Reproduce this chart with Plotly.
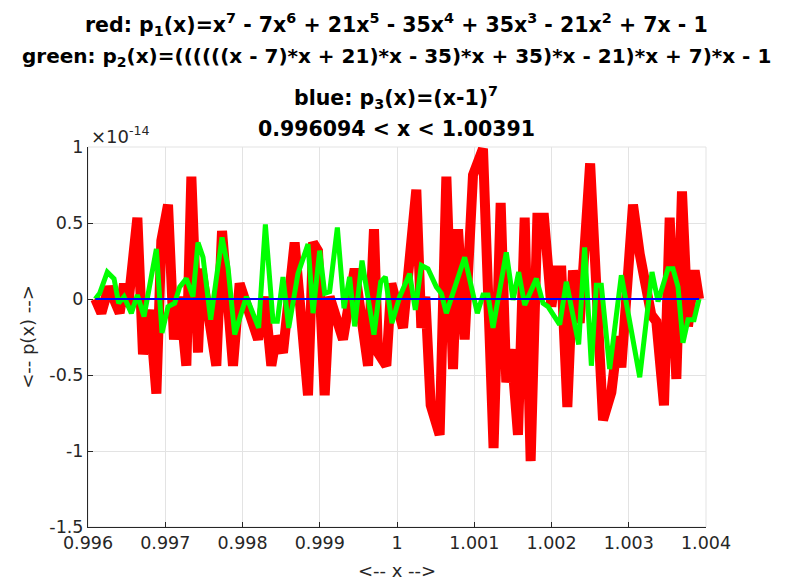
import plotly.graph_objects as go

# values in units of 1e-14 (axis shows x10^-14 exponent)
red_x = [0.996094, 0.996173, 0.996268, 0.996410, 0.996466, 0.996518, 0.996639, 0.996712,
         0.996798, 0.996885, 0.996949, 0.997036, 0.997113, 0.997187, 0.997273, 0.997338,
         0.997424, 0.997467, 0.997661, 0.997735, 0.997877, 0.997963, 0.998201, 0.998287,
         0.998373, 0.998438, 0.998524, 0.998675, 0.998848, 0.998913, 0.998977, 0.999064,
         0.999128, 0.999301, 0.999452, 0.999625, 0.999702, 0.999754, 0.999862, 0.999927,
         1.000078, 1.000151, 1.000250, 1.000315, 1.000367, 1.000436, 1.000552, 1.000639,
         1.000725, 1.000790, 1.000876, 1.000984, 1.001113, 1.001250, 1.001342, 1.001415,
         1.001480, 1.001566, 1.001653, 1.001730, 1.001817, 1.001903, 1.001998, 1.002063,
         1.002127, 1.002205, 1.002278, 1.002365, 1.002500, 1.002667, 1.002775, 1.002861,
         1.002904, 1.003055, 1.003142, 1.003292, 1.003357, 1.003456, 1.003530, 1.003616,
         1.003689, 1.003767, 1.003853, 1.003910]
red_y = [0.0, -0.093, 0.08, -0.093, 0.10, -0.05, 0.535, -0.364,
         -0.071, -0.623, 0.383, 0.621, -0.266, 0.015, -0.439, 0.805,
         -0.353, 0.199, -0.439, 0.448, -0.439, 0.102, -0.266, 0.015,
         -0.439, -0.245, -0.353, 0.372, -0.634, 0.372, 0.318, -0.634,
         0.015, -0.266, 0.199, -0.439, 0.459, -0.353, -0.439, 0.102,
         -0.190, 0.188, 0.719, -0.190, 0.015, -0.699, -0.894, 0.805,
         -0.461, 0.459, -0.266, 0.816, 0.989, -0.981, 0.632, -0.548,
         -0.331, -0.894, 0.535, -1.067, 0.535, 0.535, -0.05, 0.188,
         0.188, -0.710, 0.188, -0.158, 0.892, -0.797, -0.613, -0.245,
         -0.450, 0.621, 0.297, -0.104, -0.147, -0.699, 0.535, -0.526,
         0.708, -0.180, 0.188, 0.0]

green_x = [0.996094, 0.996151, 0.996250, 0.996337, 0.996397, 0.996466, 0.996561, 0.996639,
           0.996725, 0.996885, 0.996958, 0.997036, 0.997122, 0.997187, 0.997273, 0.997359,
           0.997424, 0.997489, 0.997588, 0.997735, 0.997812, 0.997899, 0.998050, 0.998209,
           0.998296, 0.998395, 0.998451, 0.998524, 0.998598, 0.998718, 0.998848, 0.998913,
           0.998999, 0.999064, 0.999128, 0.999228, 0.999314, 0.999387, 0.999452, 0.999547,
           0.999702, 0.999789, 0.999849, 0.999935, 1.000035, 1.000164, 1.000237, 1.000315,
           1.000401, 1.000509, 1.000574, 1.000639, 1.000876, 1.001040, 1.001113, 1.001178,
           1.001243, 1.001415, 1.001502, 1.001575, 1.001653, 1.001804, 1.001890, 1.001955,
           1.002106, 1.002192, 1.002352, 1.002429, 1.002516, 1.002580, 1.002645, 1.002753,
           1.002904, 1.003142, 1.003301, 1.003379, 1.003508, 1.003573, 1.003638, 1.003702,
           1.003767, 1.003845, 1.003910]
green_y = [0.0, 0.037, 0.177, 0.134, -0.028, 0.015, -0.093, 0.026,
           -0.115, 0.329, -0.223, -0.05, -0.028, 0.08, 0.134, 0.015,
           0.372, 0.275, -0.136, 0.405, 0.21, -0.234, 0.015, -0.190,
           0.491, -0.147, -0.147, 0.145, -0.190, 0.167, 0.361, -0.093,
           0.318, 0.037, 0.048, 0.47, -0.061, 0.145, -0.180, 0.253,
           -0.234, 0.113, 0.145, -0.158, 0.015, 0.167, -0.071, 0.221,
           0.199, 0.08, 0.037, -0.093, 0.275, -0.093, 0.026, 0.026,
           -0.190, 0.307, -0.006, 0.177, -0.039, 0.134, -0.028, -0.05,
           -0.169, 0.113, -0.299, 0.340, -0.439, 0.091, 0.091, -0.461,
           0.156, -0.515, 0.177, -0.017, 0.199, 0.199, 0.08, -0.288,
           -0.136, -0.136, 0.0]

blue_x = [0.996094, 1.003910]
blue_y = [0.0, 0.0]

x_ticks = [0.996, 0.997, 0.998, 0.999, 1.0, 1.001, 1.002, 1.003, 1.004]
x_tick_labels = ["0.996", "0.997", "0.998", "0.999", "1", "1.001", "1.002", "1.003", "1.004"]
y_ticks = [-1.5, -1, -0.5, 0, 0.5, 1]
y_tick_labels = ["-1.5", "-1", "-0.5", "0", "0.5", "1"]

title_lines = [
    "red: p<sub>1</sub>(x)=x<sup>7</sup> - 7x<sup>6</sup> + 21x<sup>5</sup> - 35x<sup>4</sup> + 35x<sup>3</sup> - 21x<sup>2</sup> + 7x - 1",
    "green: p<sub>2</sub>(x)=((((((x - 7)*x + 21)*x - 35)*x + 35)*x - 21)*x + 7)*x - 1",
    "blue: p<sub>3</sub>(x)=(x-1)<sup>7</sup>",
    "0.996094 < x < 1.00391",
]
# the page body has an 8px margin, so figure coords = page coords - 8
title_y_px = [17, 49, 89, 121]
title_sizes = [20.5, 20, 20.5, 20.5]

fig = go.Figure()
fig.add_trace(go.Scatter(x=red_x, y=red_y, mode="lines",
                         line=dict(color="#FF0000", width=10), showlegend=False))
fig.add_trace(go.Scatter(x=green_x, y=green_y, mode="lines",
                         line=dict(color="#00FF00", width=5), showlegend=False))
fig.add_trace(go.Scatter(x=blue_x, y=blue_y, mode="lines",
                         line=dict(color="#0000FF", width=2), showlegend=False))

W, H = 777, 573
L, T = 80, 139
PW, PH = 618, 380
R = W - L - PW
B = H - T - PH

font_family = "DejaVu Sans"
for txt, py, fs in zip(title_lines, title_y_px, title_sizes):
    fig.add_annotation(text="<b>" + txt + "</b>", xref="paper", yref="paper",
                       x=(388 - L) / PW, y=(H - B - py) / PH, xanchor="center", yanchor="middle",
                       showarrow=False, font=dict(size=fs, color="#000000", family=font_family))

fig.add_annotation(text="×10<sup>-14</sup>", xref="paper", yref="paper",
                   x=1 / PW, y=(H - B - 127) / PH, xanchor="left", yanchor="middle",
                   showarrow=False, font=dict(size=18, color="#262626", family=font_family))

fig.update_layout(
    width=W, height=H,
    margin=dict(l=L, r=R, t=T, b=B, pad=0),
    paper_bgcolor="white", plot_bgcolor="white",
    font=dict(family=font_family, size=17.5, color="#262626"),
    xaxis=dict(range=[0.996, 1.004], tickvals=x_ticks, ticktext=x_tick_labels,
               showgrid=True, gridcolor="#E3E3E3", gridwidth=1, automargin=False,
               showline=True, linecolor="#262626", linewidth=1, mirror=False,
               ticks="inside", ticklen=5, tickcolor="#262626",
               zeroline=False, title=dict(text="<-- x -->", standoff=12,
                                          font=dict(size=18, color="#262626"))),
    yaxis=dict(range=[-1.5, 1], tickvals=y_ticks, ticktext=y_tick_labels,
               showgrid=True, gridcolor="#E3E3E3", gridwidth=1, automargin=False,
               showline=True, linecolor="#262626", linewidth=1, mirror=False,
               ticks="inside", ticklen=5, tickcolor="#262626",
               zeroline=False, title=dict(text="<-- p(x) -->", standoff=10,
                                          font=dict(size=18, color="#262626"))),
)
fig.add_shape(type="rect", xref="paper", yref="paper", x0=0, x1=1, y0=0, y1=1,
              line=dict(color="#E3E3E3", width=1), layer="below")

fig.write_html("out.html")
